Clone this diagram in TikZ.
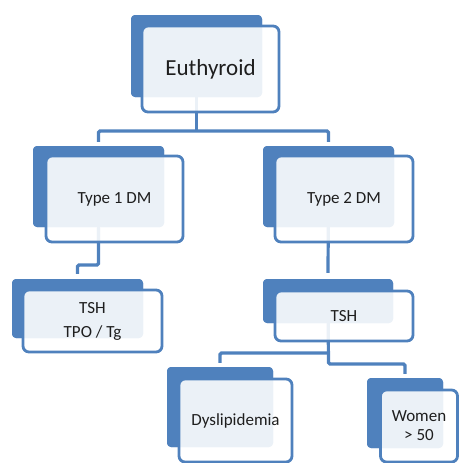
\documentclass[tikz,border=0pt]{standalone}
\usepackage{fontspec}
\setmainfont{Carlito}
\definecolor{myblue}{RGB}{79,129,189}
\definecolor{txt}{RGB}{30,30,30}
\tikzset{
  backbox/.style={rectangle, fill=myblue, draw=none, rounded corners=4pt, inner sep=0pt},
  frontbox/.style={rectangle, draw=myblue, line width=2.8pt, fill=white, fill opacity=0.89,
    text opacity=1, rounded corners=6pt, inner sep=0pt, text=txt, align=center,
    font=\fontsize{17}{24}\selectfont},
  conn/.style={draw=myblue, line width=3.2pt, rounded corners=1.5pt}
}
\begin{document}
\begin{tikzpicture}[x=1pt,y=-1pt]
\useasboundingbox (0,0) rectangle (459,463);
% back boxes (named, used as connector anchors)
\node[backbox, minimum width=131pt, minimum height=82pt] (euB) at (196.5,56) {};
\node[backbox, minimum width=131pt, minimum height=81pt] (t1B) at (98.5,186.5) {};
\node[backbox, minimum width=131pt, minimum height=81pt] (t2B) at (328.5,186.5) {};
\node[backbox, minimum width=131pt, minimum height=59pt] (tpoB) at (77.5,308.5) {};
\node[backbox, minimum width=130pt, minimum height=44pt] (tshB) at (328,301) {};
\node[backbox, minimum width=106pt, minimum height=80pt] (dysB) at (220,407) {};
\node[backbox, minimum width=76pt, minimum height=70pt] (womB) at (405,413) {};
% connectors
\coordinate (j1) at (196.5,131);
\coordinate (j2) at (98.5,265);
\coordinate (j3) at (328.5,353);
\coordinate (j4) at (328.5,364);
\draw[conn] (euB.center) -- (j1);
\draw[conn] ([yshift=4pt]t1B.north) |- (j1) -| ([yshift=4pt]t2B.north);
\draw[conn] (t1B.center) -- (j2) -| ([yshift=5pt]tpoB.north);
\draw[conn] (t2B.center) -- ([yshift=6pt]tshB.north);
\draw[conn] (tshB.center) -- (j4) -| ([yshift=4pt]womB.north);
\draw[conn] (j3) -| ([yshift=4pt]dysB.north);
% back boxes again, over the connectors
\node[backbox, minimum width=131pt, minimum height=82pt] at (euB) {};
\node[backbox, minimum width=131pt, minimum height=81pt] at (t1B) {};
\node[backbox, minimum width=131pt, minimum height=81pt] at (t2B) {};
\node[backbox, minimum width=131pt, minimum height=59pt] at (tpoB) {};
\node[backbox, minimum width=130pt, minimum height=44pt] at (tshB) {};
\node[backbox, minimum width=106pt, minimum height=80pt] at (dysB) {};
\node[backbox, minimum width=76pt, minimum height=70pt] at (womB) {};
% front boxes
\node[frontbox, minimum width=137pt, minimum height=86pt, font=\fontsize{23}{28}\selectfont] (eu) at (210.5,69) {Euthyroid};
\node[frontbox, minimum width=137pt, minimum height=86pt] (t1) at (114.5,199) {Type 1 DM};
\node[frontbox, minimum width=138pt, minimum height=86pt] (t2) at (344,199) {Type 2 DM};
\node[frontbox, minimum width=139pt, minimum height=62pt] (tpo) at (92.5,321) {TSH\\TPO / Tg};
\node[frontbox, minimum width=138pt, minimum height=50pt] (tsh) at (344,316) {TSH};
\node[frontbox, minimum width=113pt, minimum height=83pt] (dys) at (235.5,420.5) {Dyslipidemia};
\node[frontbox, minimum width=77pt, minimum height=72pt, font=\fontsize{17}{19}\selectfont] (wom) at (419,426) {Women\\{}> 50};
\end{tikzpicture}
\end{document}
